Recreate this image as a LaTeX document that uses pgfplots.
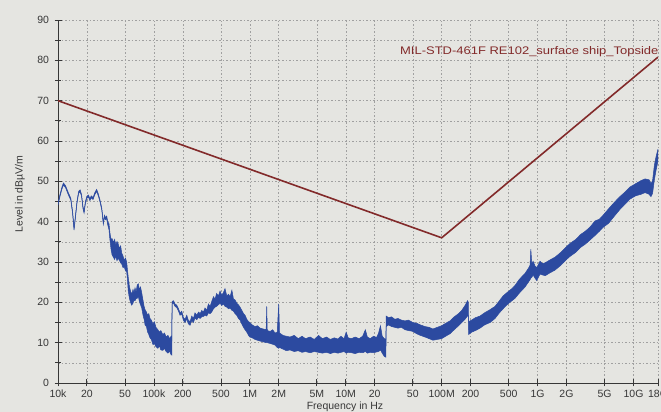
\documentclass[border=0pt]{standalone}
\usepackage{fontspec}
\setmainfont{Liberation Sans}
\usepackage{xcolor}
\usepackage{pgfplots}
\pgfplotsset{compat=1.18}
\usepackage{pgfplotstable}
\usepgfplotslibrary{fillbetween}
\definecolor{paper}{RGB}{229,229,225}
\definecolor{tracecol}{RGB}{44,74,160}
\definecolor{limitcol}{RGB}{130,42,42}
\definecolor{axiscol}{RGB}{55,55,55}
\definecolor{gridcol}{RGB}{160,160,160}
\pagecolor{paper}

\pgfplotstableread{
f U L
1.00e4 44.6 44.1
1.05e4 46.8 46.3
1.10e4 48.6 48.1
1.14e4 49.6 49.1
1.20e4 48.9 48.4
1.28e4 47.2 46.7
1.36e4 45.8 45.3
1.42e4 42.5 42.0
1.47e4 38.4 37.9
1.52e4 41.5 41.0
1.58e4 45.2 44.7
1.64e4 47.5 47.0
1.70e4 47.9 47.4
1.76e4 46.8 46.3
1.82e4 43.8 43.3
1.87e4 42.6 42.1
1.93e4 45.0 44.5
2.00e4 46.3 45.8
2.08e4 46.6 46.1
2.15e4 45.7 45.2
2.22e4 46.4 45.9
2.32e4 46.0 45.5
2.42e4 47.2 46.7
2.53e4 48.0 47.5
2.64e4 46.8 46.3
2.74e4 45.4 44.9
2.86e4 43.4 42.9
2.97e4 39.8 39.3
3.05e4 41.6 41.1
3.13e4 41.0 40.5
3.22e4 41.4 40.7
3.30e4 40.0 39.2
3.40e4 39.5 38.0
3.49e4 37.0 35.2
3.58e4 35.6 33.0
3.66e4 35.8 31.8
3.78e4 34.9 31.2
3.90e4 35.6 30.6
4.00e4 34.2 31.5
4.12e4 35.1 30.3
4.23e4 34.6 31.0
4.36e4 33.4 30.4
4.50e4 34.0 29.8
4.62e4 32.2 29.5
4.76e4 31.5 28.6
4.90e4 30.4 28.8
5.05e4 31.0 27.8
5.20e4 30.0 27.6
5.30e4 28.0 25.5
5.40e4 26.2 22.8
5.55e4 24.0 21.0
5.70e4 22.8 20.0
5.87e4 22.0 19.3
6.05e4 23.2 19.8
6.20e4 22.4 20.6
6.35e4 23.6 20.4
6.52e4 22.6 20.9
6.70e4 24.3 21.0
6.88e4 24.6 21.5
7.05e4 23.2 20.2
7.25e4 23.8 19.4
7.46e4 22.4 18.6
7.70e4 20.5 16.8
7.90e4 19.0 15.8
8.08e4 18.2 14.4
8.35e4 17.6 14.0
8.60e4 16.8 12.6
8.85e4 17.2 12.0
9.10e4 16.0 11.2
9.40e4 15.6 10.8
9.78e4 14.6 9.5
1.01e5 15.2 9.8
1.05e5 13.8 9.0
1.10e5 13.2 8.6
1.14e5 12.6 9.2
1.18e5 13.0 8.2
1.24e5 12.0 8.1
1.29e5 12.4 8.6
1.34e5 11.4 7.8
1.40e5 11.8 7.4
1.46e5 11.0 7.9
1.51e5 11.6 7.0
1.54e5 10.8 6.9
1.545e5 20.2 19.6
1.60e5 20.4 19.8
1.66e5 19.6 19.0
1.73e5 19.3 18.7
1.80e5 18.5 17.9
1.87e5 17.4 16.8
1.95e5 17.8 17.1
2.03e5 16.2 15.5
2.11e5 15.8 15.0
2.20e5 16.8 15.9
2.28e5 15.6 14.7
2.38e5 15.2 14.3
2.48e5 16.6 15.5
2.58e5 16.0 15.0
2.68e5 17.4 16.1
2.80e5 16.8 15.7
2.92e5 17.6 16.3
3.03e5 17.2 16.0
3.15e5 18.0 16.4
3.28e5 17.6 16.5
3.41e5 18.6 16.8
3.55e5 18.0 16.6
3.70e5 19.6 17.4
3.85e5 19.0 17.2
4.00e5 20.2 17.6
4.18e5 21.4 18.4
4.34e5 20.8 18.8
4.50e5 22.2 19.0
4.70e5 21.6 19.4
4.89e5 22.8 19.8
5.10e5 21.8 19.2
5.30e5 22.4 19.6
5.51e5 23.4 19.0
5.75e5 21.6 18.8
6.00e5 22.0 18.4
6.22e5 21.4 18.6
6.50e5 23.0 18.0
6.75e5 20.8 17.8
7.01e5 20.6 17.2
7.30e5 19.8 16.8
7.60e5 19.4 16.0
7.91e5 18.8 15.6
8.25e5 18.0 14.6
8.60e5 17.2 13.8
8.91e5 16.8 13.2
9.30e5 15.8 12.6
9.70e5 15.2 11.8
1.00e6 15.0 11.4
1.06e6 14.4 11.2
1.13e6 14.0 10.8
1.20e6 14.2 10.6
1.28e6 13.6 10.4
1.38e6 13.4 10.2
1.48e6 13.2 10.0
1.50e6 19.0 10.0
1.52e6 13.0 10.0
1.63e6 12.8 9.8
1.73e6 13.2 9.6
1.83e6 12.4 9.4
1.93e6 12.6 8.8
2.00e6 19.6 8.6
2.04e6 12.4 8.8
2.22e6 11.8 8.4
2.40e6 11.6 8.0
2.62e6 11.4 8.2
2.90e6 11.8 7.8
3.20e6 11.0 8.0
3.50e6 11.6 7.6
3.80e6 11.0 7.8
4.25e6 11.4 7.5
4.70e6 10.8 7.8
5.20e6 11.8 7.6
5.70e6 11.0 7.4
6.30e6 11.4 7.6
6.90e6 10.8 7.3
7.60e6 11.2 7.6
8.30e6 10.9 7.4
8.90e6 11.6 7.6
9.60e6 11.0 7.8
1.01e7 12.6 7.4
1.06e7 11.2 7.6
1.15e7 11.0 7.5
1.25e7 11.4 7.3
1.38e7 11.0 7.6
1.50e7 11.6 7.5
1.60e7 13.2 7.8
1.68e7 11.4 7.4
1.80e7 11.0 7.6
1.95e7 11.6 7.5
2.10e7 11.3 7.7
2.20e7 12.4 7.8
2.30e7 14.2 8.2
2.40e7 11.6 7.4
2.52e7 11.0 6.6
2.62e7 10.8 6.4
2.64e7 16.6 14.0
2.80e7 16.2 14.4
3.00e7 16.4 14.0
3.25e7 15.8 13.8
3.50e7 16.0 13.6
3.80e7 15.6 13.8
4.15e7 15.4 13.2
4.50e7 15.6 13.0
5.00e7 15.0 12.8
5.50e7 14.8 12.2
6.00e7 14.4 11.8
6.70e7 14.0 11.4
7.40e7 13.8 11.0
8.10e7 13.4 10.6
9.00e7 13.8 10.8
1.00e8 14.2 11.0
1.10e8 14.8 11.6
1.22e8 15.4 12.2
1.35e8 16.4 13.2
1.50e8 17.2 14.2
1.62e8 18.0 15.0
1.75e8 19.2 15.8
1.86e8 20.4 16.6
1.90e8 20.0 16.8
1.905e8 15.2 12.0
2.05e8 15.6 12.6
2.25e8 16.2 13.0
2.51e8 16.6 13.6
2.80e8 17.4 14.4
3.20e8 18.2 15.0
3.60e8 19.0 16.0
4.00e8 20.4 17.4
4.37e8 21.6 18.4
4.90e8 22.6 19.6
5.40e8 23.4 20.4
5.82e8 24.2 21.0
6.40e8 25.6 22.2
7.00e8 26.6 23.2
7.41e8 27.2 23.8
8.00e8 28.4 25.0
8.34e8 29.2 25.6
8.50e8 33.2 26.0
8.70e8 29.6 26.2
8.97e8 30.2 26.8
9.40e8 29.0 26.0
9.78e8 28.6 25.4
1.02e9 29.4 26.2
1.06e9 30.2 27.0
1.12e9 29.6 26.8
1.20e9 29.8 26.6
1.32e9 30.4 27.2
1.52e9 31.2 28.0
1.75e9 32.4 29.2
2.00e9 33.8 30.6
2.18e9 34.6 31.4
2.50e9 35.6 32.4
2.80e9 36.8 33.6
3.13e9 37.6 34.4
3.50e9 38.6 35.4
3.98e9 40.2 36.6
4.40e9 40.6 37.6
4.82e9 41.6 38.6
5.50e9 43.2 39.6
6.43e9 45.0 41.6
7.20e9 46.2 43.0
8.20e9 47.4 44.4
9.20e9 48.6 45.6
1.05e10 49.4 46.4
1.20e10 50.2 46.8
1.32e10 50.6 47.2
1.45e10 50.4 46.8
1.52e10 49.4 46.2
1.58e10 50.2 47.0
1.65e10 54.0 50.4
1.72e10 56.2 52.8
1.80e10 58.0 55.0
}\tracedata

\pgfplotstableread{
f level
1e4 70
1e8 36
1.8e10 80.8
}\limitdata

\begin{document}
\begin{tikzpicture}
\path (0pt,0pt) rectangle (661pt,412pt);
\begin{axis}[
  at={(58pt,29pt)}, anchor=south west,
  scale only axis, width=600pt, height=363pt,
  xmode=log, xmin=1e4, xmax=1.8e10, ymin=0, ymax=90,
  axis lines=left,
  axis line style={-, draw=axiscol, line width=0.8pt},
  tick style={draw=axiscol, line width=0.8pt},
  tick align=center,
  major tick length=7pt, minor tick length=6pt,
  xtick={1e4,2e4,5e4,1e5,2e5,5e5,1e6,2e6,5e6,1e7,2e7,5e7,1e8,2e8,5e8,1e9,2e9,5e9,1e10,1.8e10},
  xticklabels={10k,20,50,100k,200,500,1M,2M,5M,10M,20,50,100M,200,500,1G,2G,5G,10G,18G},
  ytick={0,10,...,90},
  minor ytick={5,15,...,85},
  xminorgrids=false,
  xmajorgrids=true, ymajorgrids=true, yminorgrids=true,
  major grid style={draw=gridcol, line width=0.5pt, dash pattern=on 1.5pt off 2pt},
  minor grid style={draw=gridcol, line width=0.5pt, dash pattern=on 1.5pt off 2pt},
  ticklabel style={font=\fontsize{10.5}{12}\selectfont, text=axiscol},
  yticklabel style={xshift=-2pt},
  /pgf/number format/assume math mode=true,
]
\addplot[name path=up, draw=tracecol, line width=0.5pt] table[x=f, y=U] {\tracedata};
\addplot[name path=lo, draw=tracecol, line width=0.5pt] table[x=f, y=L] {\tracedata};
\addplot[fill=tracecol, draw=none] fill between[of=up and lo];
\addplot[limitcol, line width=1.6pt] table[x=f, y=level] {\limitdata};
\end{axis}
\node[rotate=90, text=axiscol, font=\fontsize{10.5}{12}\selectfont] at (20pt,218pt) {Level in dBµV/m};
\node[text=axiscol, font=\fontsize{10.5}{12}\selectfont] at (345pt,5pt) {Frequency in Hz};
\node[anchor=west, text=limitcol, font=\fontsize{11}{13}\selectfont, xscale=1.18, transform shape] at (396pt,360pt) {MIL-STD-461F RE102\_surface ship\_Topside};
\pgfresetboundingbox
\path[use as bounding box] (0pt,0pt) rectangle (661pt,412pt);
\end{tikzpicture}
\end{document}
